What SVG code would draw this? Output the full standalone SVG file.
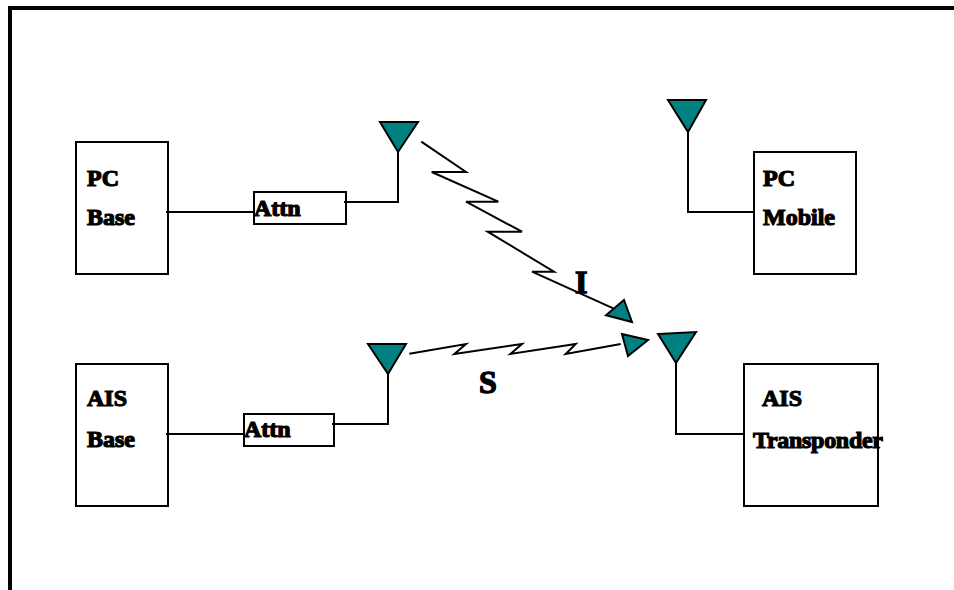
<svg xmlns="http://www.w3.org/2000/svg" width="954" height="590" viewBox="0 0 954 590">
<style>
.b{fill:#fff;stroke:#000;stroke-width:2}
.c{fill:none;stroke:#000;stroke-width:2}
.a{fill:#008080;stroke:#000;stroke-width:2;stroke-linejoin:miter}
.t{font-family:"Liberation Serif","Times New Roman",serif;font-weight:bold;font-size:24px;fill:#000;stroke:#000;stroke-width:1.2}
.l{font-size:32px;stroke-width:1.4}
</style>
<rect width="954" height="590" fill="#fff"/>
<path id="frame" d="M10 590V8H954" fill="none" stroke="#000" stroke-width="4"/>
<g id="pc-base"><rect class="b" x="76" y="142" width="92" height="132"/><text class="t" x="87" y="186">PC</text><text class="t" x="87" y="225">Base</text></g>
<g id="attn-1"><rect class="b" x="254" y="192" width="92" height="32"/><text class="t" x="254" y="216">Attn</text></g>
<g id="antenna-1"><path class="a" d="M380 122H418L398 152Z"/></g>
<g id="pc-mobile"><rect class="b" x="754" y="152" width="102" height="122"/><text class="t" x="763" y="186">PC</text><text class="t" x="763" y="225">Mobile</text></g>
<g id="antenna-2"><path class="a" d="M668 100H706L688 132Z"/></g>
<g id="ais-base"><rect class="b" x="76" y="364" width="92" height="142"/><text class="t" x="87" y="406">AIS</text><text class="t" x="87" y="447">Base</text></g>
<g id="attn-2"><rect class="b" x="244" y="414" width="90" height="32"/><text class="t" x="244" y="437">Attn</text></g>
<g id="antenna-3"><path class="a" d="M368 344H406L388 374Z"/></g>
<g id="ais-transponder"><rect class="b" x="744" y="364" width="134" height="142"/><text class="t" x="762" y="406">AIS</text><text class="t" x="753" y="448" textLength="130" lengthAdjust="spacing">Transponder</text></g>
<g id="antenna-4"><path class="a" d="M658 334L696 332L676 363Z"/></g>
<g id="connectors">
<path class="c" d="M166 212H254"/>
<path class="c" d="M344 202H398V152"/>
<path class="c" d="M688 132V212H754"/>
<path class="c" d="M166 434H244"/>
<path class="c" d="M332 424H388V374"/>
<path class="c" d="M676 363V434H744"/>
<path class="c" d="M421.300 141.700L466 172H431.700L498.300 201.700H466L522 231.700H487.700L554 271.700H532L613.300 308.300"/>
<path class="a" d="M624 300L632 322L606 315.300Z"/>
<path class="c" d="M409.300 353.700L466 344L454.300 354L522 344L510.300 354L575.700 344L565.700 354L620.700 344"/>
<path class="a" d="M622 334L648 340L628 356Z"/>
</g>
<text class="t l" x="575" y="293">I</text>
<text class="t l" x="479" y="393">S</text>
</svg>
